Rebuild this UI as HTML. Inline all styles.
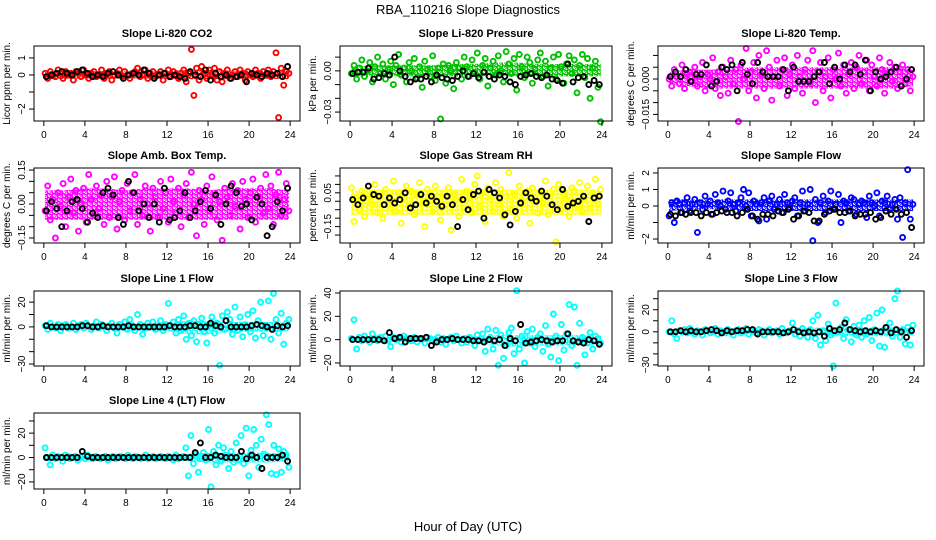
<!DOCTYPE html>
<html><head><meta charset="utf-8"><style>
html,body{margin:0;padding:0;background:#fff;}
svg{display:block;font-family:"Liberation Sans",sans-serif;}
</style></head><body>
<svg id="chart" width="936" height="540" viewBox="0 0 936 540">
<defs id="defs"></defs>
<text x="468" y="14" text-anchor="middle" font-size="13">RBA_110216  Slope Diagnostics</text>
<text x="468" y="531" text-anchor="middle" font-size="13">Hour of Day (UTC)</text>
</svg>
<script>
const xTicks = [0,4,8,12,16,20,24];
const bandHours = [0,2,4,6,8,10,12,14,16,18,20,22,24];
const co2Lo = [-0.25,-0.22,-0.2,-0.22,-0.2,-0.2,-0.22,-0.25,-0.25,-0.22,-0.2,-0.22,-0.25];
const co2Hi = [0.22,0.25,0.22,0.22,0.25,0.25,0.25,0.3,0.3,0.25,0.25,0.25,0.25];
const presLo = [-0.004,-0.004,-0.004,-0.004,-0.004,-0.004,-0.004,-0.004,-0.004,-0.004,-0.004,-0.004,-0.004];
const presHi = [0.003,0.004,0.004,0.004,0.004,0.005,0.005,0.006,0.006,0.005,0.005,0.005,0.005];
const tempLo = [-0.002,-0.003,-0.004,-0.004,-0.004,-0.004,-0.004,-0.004,-0.004,-0.004,-0.004,-0.004,-0.003];
const tempHi = [0.003,0.004,0.004,0.004,0.005,0.005,0.005,0.005,0.005,0.005,0.005,0.005,0.004];
const ambLo = [-0.07,-0.07,-0.07,-0.07,-0.07,-0.07,-0.07,-0.07,-0.07,-0.07,-0.07,-0.07,-0.07];
const ambHi = [0.06,0.06,0.07,0.07,0.06,0.07,0.07,0.07,0.06,0.07,0.07,0.07,0.06];
const rhLo = [-0.08,-0.08,-0.08,-0.08,-0.08,-0.08,-0.08,-0.08,-0.08,-0.08,-0.08,-0.08,-0.08];
const rhHi = [0.06,0.07,0.07,0.07,0.07,0.07,0.07,0.07,0.07,0.07,0.07,0.07,0.06];
const flowLo = [-0.3,-0.2,-0.2,-0.2,-0.3,-0.3,-0.3,-0.3,-0.3,-0.3,-0.3,-0.3,-0.3];
const flowHi = [0.4,0.4,0.4,0.4,0.4,0.4,0.4,0.4,0.4,0.4,0.4,0.4,0.4];
const line1Lo = [-2,-2,-2,-2,-3,-3,-3,-6,-6,-4,-4,-4,-3];
const line1Hi = [2,2,2,2,3,3,3,5,5,4,4,4,3];
const line2Lo = [-2,-2,-2,-2,-2,-2,-3,-5,-6,-5,-5,-5,-4];
const line2Hi = [2,2,2,2,2,2,2,4,4,4,4,4,3];
const line3Lo = [-2,-2,-2,-2,-2,-2,-2,-4,-4,-4,-4,-4,-3];
const line3Hi = [2,2,2,2,2,2,2,4,4,4,4,4,3];
const line4Lo = [-1,-1,-1,-1,-1,-1,-1,-3,-4,-4,-4,-4,-3];
const line4Hi = [1,1,1,1,1,1,1,3,4,4,4,4,3];

const co2Color = [0.1,-0.2,0.2,0.0,-0.1,0.3,0.1,-0.2,0.2,0.0,0.1,-0.3,0.2,0.1,-0.1,0.3,0.0,-0.2,0.1,0.2,-0.1,0.0,0.3,-0.2,
0.1,0.2,-0.3,0.0,0.1,0.3,-0.1,0.2,0.0,-0.2,0.1,0.2,0.4,-0.1,0.0,0.3,-0.2,0.1,0.2,-0.1,0.0,0.2,-0.3,0.1,
0.3,-0.1,0.2,0.0,-0.2,0.1,0.3,-0.4,0.1,1.5,-1.2,0.4,-0.3,0.5,0.1,-0.2,0.3,0.0,0.4,-0.3,0.2,-0.4,0.1,0.3,
-0.2,0.0,0.2,-0.1,0.3,0.1,-0.3,0.2,0.0,-0.1,0.3,0.1,-0.2,0.2,0.0,0.3,-0.1,0.2,1.3,-2.5,0.4,-0.6,0.2,0.1];
const co2Black = [-0.1,0.0,0.1,0.2,0.1,0.0,0.2,0.3,0.1,-0.1,0.0,-0.1,0.1,0.2,0.0,-0.2,0.0,0.1,0.0,0.3,0.1,-0.2,0.0,0.1,-0.1,0.0,-0.1,-0.2,0.2,0.0,-0.1,0.3,-0.3,0.1,-0.1,0.0,-0.2,-0.1,0.0,-0.4,0.1,0.0,-0.1,0.1,0.0,0.1,-0.1,0.5];
const presColor = [-0.002,0.004,-0.006,0.002,0.008,-0.004,0.000,0.006,-0.008,0.003,0.010,-0.002,0.005,-0.006,0.001,0.007,-0.010,0.004,0.012,-0.003,0.002,-0.008,0.006,0.000,
0.009,-0.005,0.003,-0.012,0.007,0.001,-0.004,0.011,-0.007,0.002,-0.035,0.005,-0.009,0.004,0.000,-0.013,0.006,0.002,-0.006,0.010,0.003,-0.004,0.008,-0.001,
0.013,-0.006,0.004,0.009,-0.011,0.002,0.007,-0.003,0.011,0.000,-0.008,0.014,0.005,-0.002,0.009,-0.014,0.012,0.003,-0.005,0.010,0.006,-0.009,0.001,0.008,
0.013,-0.004,0.007,-0.011,0.002,0.010,-0.006,0.012,0.003,-0.009,0.005,0.011,-0.002,0.008,-0.016,0.004,0.012,-0.005,0.009,-0.020,0.002,0.007,-0.012,-0.037];
const presBlack = [-0.002,-0.001,-0.001,0.002,-0.006,-0.005,-0.002,-0.003,0.010,0.000,-0.004,-0.008,-0.006,-0.006,-0.004,-0.008,-0.003,-0.005,-0.006,-0.007,-0.004,0.000,-0.004,-0.002,-0.005,-0.001,-0.004,-0.006,-0.003,-0.004,-0.008,-0.010,-0.004,-0.003,-0.002,-0.004,-0.005,-0.003,-0.006,-0.007,-0.009,0.005,-0.008,-0.005,-0.004,-0.010,-0.007,-0.010];
const tempColor = [0.000,-0.003,0.004,0.001,-0.002,0.006,-0.004,0.002,0.003,-0.001,0.005,-0.003,0.001,0.007,-0.005,0.002,0.000,0.009,-0.004,0.003,-0.007,0.005,0.001,-0.006,
0.008,-0.002,0.004,-0.018,0.006,0.000,0.013,-0.005,0.003,0.007,-0.008,0.010,0.002,-0.004,0.012,0.005,-0.009,0.001,0.008,-0.003,0.004,0.009,-0.007,0.002,
0.006,-0.004,0.010,0.001,-0.006,0.004,0.008,-0.002,0.012,-0.010,0.003,0.007,-0.005,0.001,0.009,-0.008,0.004,0.000,0.011,-0.003,0.006,-0.006,0.002,0.007,
-0.004,0.005,0.010,-0.002,0.003,0.008,-0.005,0.006,0.001,-0.003,0.009,0.004,-0.006,0.002,0.007,-0.001,0.005,-0.004,0.003,0.006,-0.002,0.004,-0.005,0.001];
const tempBlack = [0.001,0.003,0.001,0.004,-0.001,0.002,0.002,0.006,-0.003,-0.001,0.005,0.004,0.006,-0.005,0.007,0.002,-0.002,0.007,0.003,0.001,0.001,0.001,0.004,-0.005,0.005,-0.001,-0.001,-0.001,0.001,0.003,0.007,-0.002,0.005,0.000,0.006,0.003,0.006,0.002,0.008,-0.005,0.003,0.000,0.001,0.003,0.005,-0.003,0.000,0.004];
const ambColor = [-0.03,0.08,-0.07,0.02,-0.15,0.05,-0.01,0.09,-0.10,0.03,0.11,-0.04,0.06,-0.12,0.00,0.07,-0.08,0.13,0.02,-0.05,0.08,-0.02,0.04,-0.09,
0.10,-0.06,0.03,0.12,-0.11,0.01,0.06,-0.07,0.09,-0.03,0.05,0.13,-0.09,0.02,-0.05,0.08,0.00,-0.12,0.07,0.03,-0.06,0.10,-0.02,0.05,
-0.08,0.11,0.01,-0.04,0.07,-0.10,0.04,0.09,-0.06,0.14,0.00,-0.14,0.06,0.02,-0.09,0.08,-0.03,0.12,0.04,-0.07,0.01,-0.16,0.07,0.03,
-0.05,0.09,-0.01,0.06,-0.11,0.10,0.02,-0.06,0.05,0.11,-0.08,0.03,0.07,-0.04,0.13,-0.02,0.08,-0.09,0.04,0.14,-0.05,0.02,0.09,-0.03];
const ambBlack = [-0.03,0.01,-0.02,-0.10,-0.03,0.01,0.02,-0.02,-0.08,-0.04,-0.06,0.05,0.07,0.04,-0.06,-0.09,0.10,0.05,-0.03,0.00,-0.06,0.00,-0.08,0.07,-0.07,-0.06,-0.03,0.05,-0.06,-0.03,0.01,0.06,-0.02,0.04,-0.09,0.00,0.08,0.05,-0.01,0.00,-0.07,0.03,0.00,-0.14,-0.10,0.01,-0.03,0.07];
const rhColor = [0.08,-0.12,0.02,-0.05,0.06,-0.09,0.00,0.04,-0.02,0.10,-0.07,0.03,-0.10,0.07,0.01,-0.04,0.12,-0.06,0.05,-0.13,0.02,0.09,-0.03,0.06,
-0.08,0.04,0.11,-0.01,-0.15,0.07,0.00,-0.06,0.09,0.03,-0.11,0.05,-0.02,0.08,-0.17,0.04,0.01,-0.09,0.13,-0.04,0.06,0.02,-0.07,0.10,
0.15,-0.03,0.05,-0.12,0.08,0.01,-0.06,0.11,-0.02,0.07,-0.09,0.03,0.17,-0.05,0.04,-0.10,0.09,0.00,-0.04,0.06,-0.13,0.08,0.02,-0.07,
0.05,-0.01,0.12,-0.08,0.03,0.07,-0.24,0.10,-0.05,0.04,0.01,-0.09,0.08,0.06,-0.03,0.11,-0.06,0.02,0.09,-0.04,0.05,0.13,-0.02,0.07];
const rhBlack = [0.01,-0.02,0.02,0.09,0.04,0.03,-0.02,0.02,-0.01,0.01,0.05,-0.04,-0.02,0.04,-0.01,0.03,0.00,-0.03,0.03,-0.02,-0.15,0.01,-0.05,0.04,0.06,-0.10,0.07,0.05,0.02,-0.08,-0.14,-0.06,-0.01,0.05,0.02,0.00,0.06,0.03,-0.02,-0.05,0.07,-0.03,-0.01,0.00,0.03,-0.12,0.02,0.03];
const flowColor = [-0.6,0.2,-1.0,0.3,0.1,-0.4,0.2,0.5,-0.3,0.1,0.4,-1.6,0.2,-0.2,0.6,0.1,0.3,-0.5,0.7,0.2,0.0,0.9,-0.2,0.3,
0.8,0.1,-0.3,0.2,0.5,1.0,0.0,0.8,-0.6,0.3,0.1,-0.9,0.2,0.5,-0.8,0.3,0.6,-0.2,0.1,0.4,-0.4,0.7,0.2,-0.1,
0.3,0.5,-0.6,0.2,0.9,-0.3,0.1,1.0,-2.1,0.4,-1.0,0.2,0.6,-0.4,0.3,0.9,-0.2,0.1,0.7,-1.0,0.3,0.2,-0.3,0.5,
0.4,-0.5,0.1,0.3,0.2,-0.7,0.6,0.2,0.0,0.8,-0.6,0.3,0.2,0.6,-0.2,0.1,0.4,-0.8,0.5,-1.9,0.2,2.2,-0.8,0.1];
const flowBlack = [-0.5,-0.6,-0.4,-0.5,-0.4,-0.4,-0.6,-0.4,-0.5,-0.4,-0.3,-0.4,-0.4,-0.6,-0.4,-0.2,-0.6,-0.8,-0.5,-0.5,-0.6,-0.3,-0.4,-0.2,-0.8,-0.6,-0.3,-0.4,-0.9,-0.9,-0.5,-0.3,-0.2,-0.4,-0.4,-0.3,-0.6,-0.5,-0.5,-0.4,-0.8,-0.7,-0.3,-0.5,-0.2,-0.5,-0.4,-1.3];
const line1Color = [1,-2,3,0,-1,2,-3,1,2,-1,0,3,-2,1,2,-1,3,0,-2,1,4,-1,2,0,
-3,1,3,-1,-5,2,0,4,-2,6,1,-3,10,2,-6,-1,3,0,4,-2,1,5,-3,2,
19,-1,4,-5,6,-3,9,-10,3,-7,5,-12,2,7,-4,-13,1,8,-5,3,-31,9,-2,12,
6,-6,16,-3,8,-8,2,10,-4,13,-9,5,20,-7,1,21,-10,27,6,-5,11,-14,3,6];
const line1Black = [1,0,0,0,0,0,0,1,1,0,0,1,0,0,0,0,1,0,0,0,0,0,0,0,1,0,0,0,1,1,0,0,3,1,0,5,0,0,0,0,1,2,1,0,-2,1,0,1];
const line2Color = [1,17,-8,2,-1,3,0,-2,5,1,-1,2,0,3,-1,-6,2,0,1,-2,3,1,0,-1,
2,-2,1,0,-3,2,1,-1,0,2,-2,1,-4,0,2,-1,3,0,-3,1,-2,2,0,-5,
4,-1,5,-10,9,2,-8,8,-22,4,-16,-5,6,10,-12,42,-8,3,-20,7,-3,9,-6,2,
5,-10,12,-4,-15,22,3,-18,13,-9,5,30,-5,28,-22,14,2,-13,-3,6,-8,3,1,-3];
const line2Black = [0,0,0,0,0,0,-1,6,1,2,-2,1,1,1,2,-5,-2,0,0,1,0,0,0,-1,-1,-2,0,-1,0,-5,1,-1,13,-3,-2,-1,0,-1,-2,-1,-1,5,-1,-2,-3,0,-1,-4];
const line3Color = [0,10,-2,-6,1,0,2,-1,3,0,-2,1,0,-3,2,1,-1,0,3,-2,1,0,-1,2,
0,-3,1,2,-1,0,3,-2,1,0,-1,2,1,-3,0,2,-1,0,1,-2,3,0,-1,1,
8,-2,1,-4,3,0,-5,2,10,-6,15,-12,1,-8,7,-3,-31,26,0,4,-6,11,2,-9,
5,-3,6,-5,10,-2,13,-8,2,17,-13,20,-14,4,8,-4,30,37,-5,2,-11,4,-12,6];
const line3Black = [0,0,1,0,1,0,0,1,2,1,-1,1,0,1,1,2,2,-2,0,0,0,0,-1,0,2,0,-1,0,-1,0,-4,3,1,2,8,2,1,0,1,0,1,0,4,-1,2,0,-5,1];
const line4Color = [8,0,-6,2,-1,1,0,-3,2,1,-1,0,1,-2,0,1,-1,2,0,-1,1,0,-1,0,
1,-2,0,1,-1,0,1,0,-1,2,0,-1,1,0,-1,0,2,-1,0,1,-1,0,1,0,
-1,1,0,-2,2,-1,0,1,8,-15,18,-5,3,-12,-1,4,-2,23,-24,5,-6,10,-3,8,
2,-9,5,-4,12,-2,18,-5,24,-15,6,23,10,-8,15,3,35,27,-13,10,-14,7,-12,5,2,-8];
const line4Black = [0,0,0,0,0,0,0,5,1,0,0,0,0,0,0,0,0,0,0,0,0,0,0,0,0,0,0,0,0,4,12,0,0,2,1,0,0,0,5,-1,2,0,-9,0,0,0,2,-3];

const NS = "http://www.w3.org/2000/svg";
const svg = document.getElementById('chart');
const defs = document.getElementById('defs');
function mk(tag, attrs, parent){
  const e = document.createElementNS(NS, tag);
  for (const k in attrs) e.setAttribute(k, attrs[k]);
  (parent||svg).appendChild(e);
  return e;
}
const cols = [[34,300],[340,612],[658,924]];
const rows = [[46,121],[168,243],[291,366],[413,489]];
const m = v=>String(v).replace('-','\u2212');
const f = d => v=>(v<0?'\u2212':'')+Math.abs(v).toFixed(d);
const panels = [
 {name:'co2', c:0,r:0,title:'Slope Li-820 CO2',yl:'Licor ppm per min.',ymin:-2.7,ymax:1.7,ticks:[-2,-1,0,1],labels:[-2,0,1],fmt:m,col:'#ff0000',cv:co2Color,bv:co2Black,lo:co2Lo,hi:co2Hi},
 {name:'pressure', c:1,r:0,title:'Slope Li-820 Pressure',yl:'kPa per min.',ymin:-0.0365,ymax:0.0181,ticks:[-0.03,-0.02,-0.01,0,0.01],labels:[-0.03,0],fmt:f(2),col:'#00c000',cv:presColor,bv:presBlack,lo:presLo,hi:presHi},
 {name:'temp', c:2,r:0,title:'Slope Li-820 Temp.',yl:'degrees C per min.',ymin:-0.0178,ymax:0.014,ticks:[-0.015,-0.01,-0.005,0,0.005,0.01],labels:[-0.015,0],fmt:f(3),col:'#ff00ff',cv:tempColor,bv:tempBlack,lo:tempLo,hi:tempHi},
 {name:'amb-box-temp', c:0,r:1,title:'Slope Amb. Box Temp.',yl:'degrees C per min.',ymin:-0.172,ymax:0.159,ticks:[-0.15,-0.1,-0.05,0,0.05,0.1,0.15],labels:[-0.15,0,0.15],fmt:f(2),col:'#ff00ff',cv:ambColor,bv:ambBlack,lo:ambLo,hi:ambHi},
 {name:'gas-rh', c:1,r:1,title:'Slope Gas Stream RH',yl:'percent per min.',ymin:-0.247,ymax:0.197,ticks:[-0.2,-0.15,-0.1,-0.05,0,0.05,0.1,0.15],labels:[-0.15,0.05],fmt:f(2),col:'#ffff00',cv:rhColor,bv:rhBlack,lo:rhLo,hi:rhHi},
 {name:'sample-flow', c:2,r:1,title:'Slope Sample Flow',yl:'ml/min per min.',ymin:-2.24,ymax:2.3,ticks:[-2,-1,0,1,2],labels:[-2,0,1,2],fmt:m,col:'#0000ff',cv:flowColor,bv:flowBlack,lo:flowLo,hi:flowHi},
 {name:'line1-flow', c:0,r:2,title:'Slope Line 1 Flow',yl:'ml/min per min.',ymin:-31.6,ymax:29,ticks:[-30,-20,-10,0,10,20],labels:[-30,0,20],fmt:m,col:'#00ffff',cv:line1Color,bv:line1Black,lo:line1Lo,hi:line1Hi},
 {name:'line2-flow', c:1,r:2,title:'Slope Line 2 Flow',yl:'ml/min per min.',ymin:-22.6,ymax:41.7,ticks:[-20,0,20,40],labels:[-20,0,20,40],fmt:m,col:'#00ffff',cv:line2Color,bv:line2Black,lo:line2Lo,hi:line2Hi},
 {name:'line3-flow', c:2,r:2,title:'Slope Line 3 Flow',yl:'ml/min per min.',ymin:-31,ymax:37,ticks:[-30,-20,-10,0,10,20,30],labels:[-30,0,20],fmt:m,col:'#00ffff',cv:line3Color,bv:line3Black,lo:line3Lo,hi:line3Hi},
 {name:'line4-flow', c:0,r:3,title:'Slope Line 4 (LT) Flow',yl:'ml/min per min.',ymin:-25.8,ymax:36.5,ticks:[-20,-10,0,10,20,30],labels:[-20,0,20],fmt:m,col:'#00ffff',cv:line4Color,bv:line4Black,lo:line4Lo,hi:line4Hi}
];
const patFor = {};
function pattern(col){
  if (patFor[col]) return patFor[col];
  const id = 'pat' + Object.keys(patFor).length;
  const pt = mk('pattern',{id:id,width:5,height:4,patternUnits:'userSpaceOnUse'},defs);
  mk('circle',{cx:1.2,cy:1.2,r:1.6,fill:'none',stroke:col,'stroke-width':1.5},pt);
  mk('circle',{cx:3.7,cy:3.2,r:1.6,fill:'none',stroke:col,'stroke-width':1.5},pt);
  patFor[col] = 'url(#' + id + ')';
  return patFor[col];
}
panels.forEach(p=>{
  const [x0,x1] = cols[p.c], [y0,y1] = rows[p.r];
  const g = mk('g',{});
  
  
  const sx = h => x0 + (h + 0.96) / 25.92 * (x1 - x0);
  const sy = v => y1 - (v - p.ymin) / (p.ymax - p.ymin) * (y1 - y0);
  const t = mk('text',{x:(x0+x1)/2,y:y0-9,'text-anchor':'middle','font-size':11,'font-weight':'bold'},g);
  t.textContent = p.title;
  
  
  const pts = [];
  bandHours.forEach((h,i)=>{ const hh=Math.min(Math.max(h,0.1),23.9); pts.push(sx(hh).toFixed(1)+','+sy(p.hi[i]).toFixed(1)); });
  for (let i=bandHours.length-1;i>=0;i--){ const hh=Math.min(Math.max(bandHours[i],0.1),23.9); pts.push(sx(hh).toFixed(1)+','+sy(p.lo[i]).toFixed(1)); }
  const band = mk('polygon',{points:pts.join(' '),fill:pattern(p.col),stroke:'none'},g);
  
  
  const drawSeries = (vals, color, nm) => {
    const sg = mk('g',{fill:'none',stroke:color,'stroke-width':1.9},g);
    
    
    vals.forEach((v,i)=>{
      const h = (i + 0.5) * 24 / vals.length;
      const c = mk('circle',{cx:sx(h).toFixed(1),cy:sy(v).toFixed(1),r:2.5},sg);
      
      
    });
  };
  drawSeries(p.cv, p.col, 'colored-series');
  drawSeries(p.bv, '#000', 'black-series');
  const box = mk('rect',{x:x0,y:y0,width:x1-x0,height:y1-y0,fill:'none',stroke:'#000','stroke-width':1},g);
  
  
  const xa = mk('g',{},g);
  
  
  xTicks.forEach(h=>{
    mk('line',{x1:sx(h),x2:sx(h),y1:y1,y2:y1+5,stroke:'#000'},xa);
    const lt = mk('text',{x:sx(h),y:y1+17,'text-anchor':'middle','font-size':10},xa);
    lt.textContent = h;
  });
  const ya = mk('g',{},g);
  
  
  p.ticks.forEach(v=>{
    mk('line',{x1:x0-5,x2:x0,y1:sy(v),y2:sy(v),stroke:'#000'},ya);
  });
  p.labels.forEach(v=>{
    const yy = sy(v), xx = x0-9;
    const lt = mk('text',{x:xx,y:yy,'text-anchor':'middle','font-size':10,transform:`rotate(-90 ${xx} ${yy})`},ya);
    lt.textContent = p.fmt(v);
  });
  const ylx = x0-24, yly = (y0+y1)/2;
  const yt = mk('text',{x:ylx,y:yly,'text-anchor':'middle','font-size':10,transform:`rotate(-90 ${ylx} ${yly})`},g);
  yt.textContent = p.yl;
  
  
});
</script>
</body></html>
